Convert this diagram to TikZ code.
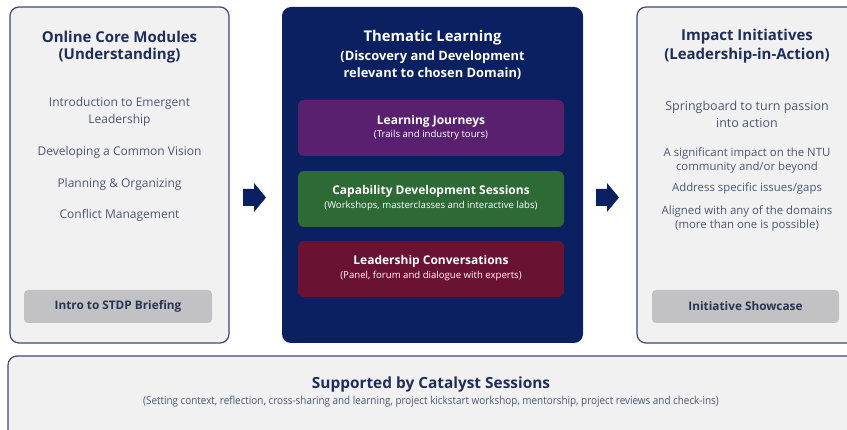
\documentclass[tikz,border=0pt]{standalone}
\usepackage{fontspec}
\setmainfont{Open Sans}
\newfontfamily\condfont{Open Sans}[FakeStretch=0.9]
\definecolor{navy}{HTML}{0B2060}
\definecolor{framec}{HTML}{3C4A72}
\definecolor{panel}{HTML}{F1F1F2}
\definecolor{titlec}{HTML}{1F2D5A}
\definecolor{itemc}{HTML}{4C5672}
\definecolor{btn}{HTML}{C2C2C4}
\definecolor{btntxt}{HTML}{2A3350}
\definecolor{purp}{HTML}{5A2070}
\definecolor{grn}{HTML}{2D6A35}
\definecolor{mar}{HTML}{6A1232}
\begin{document}
\begin{tikzpicture}[x=1pt,y=-1pt,
  panelbox/.style={draw=framec,line width=1.2pt,fill=panel,rounded corners=9pt},
  btnbox/.style={fill=btn,rounded corners=4pt},
  sub/.style={fill=#1,rounded corners=6pt},
  ttl/.style={text=titlec,font=\fontsize{15}{18}\selectfont\bfseries,align=center},
  itm/.style={text=itemc,font=\fontsize{12}{17}\selectfont,align=center},
  sitm/.style={text=itemc,font=\fontsize{11.4}{14}\selectfont,align=center},
  btnt/.style={text=btntxt,font=\fontsize{11.8}{14}\selectfont\bfseries},
  wt/.style={text=white,font=\fontsize{12}{14}\selectfont\bfseries},
  ws/.style={text=white,font=\fontsize{9.6}{11}\selectfont},
  flow/.style={fill=navy}
]
\useasboundingbox (0,0) rectangle (847,430);
\begin{scope}
\clip (0,0) rectangle (847,430);
% left panel
\draw[panelbox] (10,7) rectangle (229,343);
\node[ttl] (lt) at (119.5,37) {Online Core Modules};
\node[ttl] (lt2) at (119.5,56) {(Understanding)};
\node[itm] (l1) at (119.5,111.5) {Introduction to Emergent\\Leadership};
\node[itm] (l2) at (119.5,152) {Developing a Common Vision};
\node[itm] (l3) at (119.5,184) {Planning \& Organizing};
\node[itm] (l4) at (119.5,215) {Conflict Management};
\path[btnbox] (24,290) rectangle (212,323);
\node[btnt] (lb) at (118,306.5) {Intro to STDP Briefing};
% center panel
\path[fill=navy,rounded corners=9pt] (282,7) rectangle (583,343);
\node[text=white,font=\fontsize{14.8}{17}\selectfont\bfseries] (ct) at (432.5,38) {Thematic Learning};
\node[text=white,font=\fontsize{12.9}{17}\selectfont\bfseries,align=center] (ct2) at (432.5,65.5) {(Discovery and Development\\relevant to chosen Domain)};
\path[sub=purp] (298,100) rectangle (564,156);
\node[wt] (j1) at (431,121) {Learning Journeys};
\node[ws] (j2) at (431,135.5) {(Trails and industry tours)};
\path[sub=grn] (298,171) rectangle (564,227);
\node[wt] (g1) at (431,191.5) {Capability Development Sessions};
\node[ws] (g2) at (431,206) {(Workshops, masterclasses and interactive labs)};
\path[sub=mar] (298,241) rectangle (564,297);
\node[wt] (m1) at (431,261.5) {Leadership Conversations};
\node[ws] (m2) at (431,276) {(Panel, forum and dialogue with experts)};
% right panel
\draw[panelbox] (637,7) rectangle (858,343);
\node[ttl] (rt) at (747,37) {Impact Initiatives};
\node[ttl] (rt2) at (747,56) {(Leadership-in-Action)};
\node[text=itemc,font=\fontsize{12.5}{17}\selectfont,align=center] (r1) at (747,114.5) {Springboard to turn passion\\into action};
\node[sitm] (r2) at (747,161) {A significant impact on the NTU\\community and/or beyond};
\node[sitm] (r3) at (747,189) {Address specific issues/gaps};
\node[sitm] (r4) at (747,218.5) {Aligned with any of the domains\\(more than one is possible)};
\path[btnbox] (652,290) rectangle (839,323);
\node[btnt] (rb) at (745.5,306.5) {Initiative Showcase};
% arrows
\coordinate (a1) at (243,197.5);
\coordinate (a2) at (596,197.5);
\foreach \c in {a1,a2}
  \fill[flow] (\c) ++(0,-8.5) -- ++(11,0) -- ++(0,-6) -- ++(12,14.5) -- ++(-12,14.5) -- ++(0,-6) -- ++(-11,0) -- cycle;
% bottom panel
\draw[panelbox] (8,356) rectangle (870,450);
\node[text=titlec,font=\fontsize{15.4}{17}\selectfont\bfseries] (bt) at (431,385) {Supported by Catalyst Sessions};
\node[text=itemc,font=\condfont\fontsize{11}{12}\selectfont] (bs) at (431,401.5) {(Setting context, reflection, cross-sharing and learning, project kickstart workshop, mentorship, project reviews and check-ins)};
\end{scope}
\end{tikzpicture}
\end{document}
